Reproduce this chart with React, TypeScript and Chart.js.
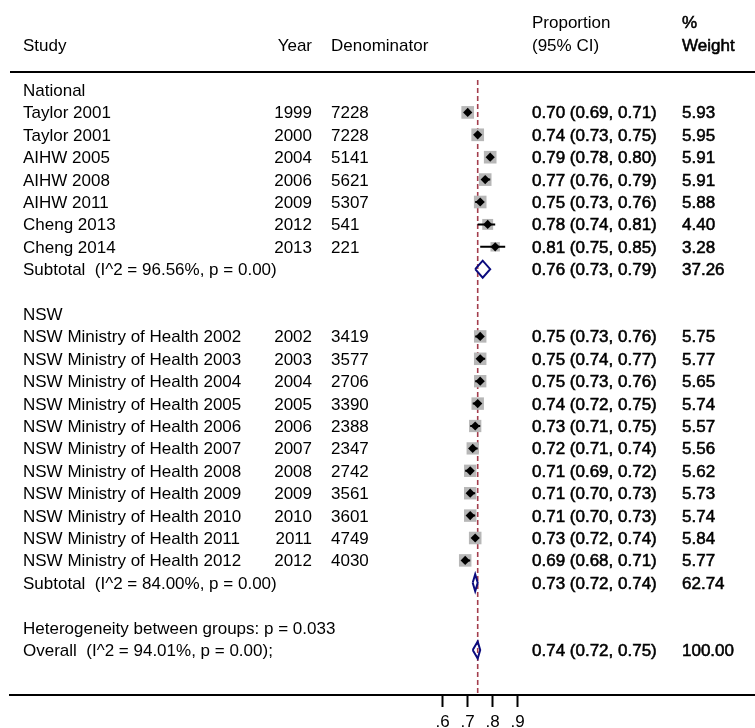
import React, { useEffect, useRef } from 'react';
import { Chart, registerables } from 'chart.js';

Chart.register(...registerables);

const FONT = '"Liberation Sans", Arial, Helvetica, sans-serif';

// ---- National group ----
const nationalStudies = ['Taylor 2001', 'Taylor 2001', 'AIHW 2005', 'AIHW 2008', 'AIHW 2011', 'Cheng 2013', 'Cheng 2014'];
const nationalYears = [1999, 2000, 2004, 2006, 2009, 2012, 2013];
const nationalDenoms = [7228, 7228, 5141, 5621, 5307, 541, 221];
const nationalProps = [0.70, 0.74, 0.79, 0.77, 0.75, 0.78, 0.81];
const nationalLower = [0.69, 0.73, 0.78, 0.76, 0.73, 0.74, 0.75];
const nationalUpper = [0.71, 0.75, 0.80, 0.79, 0.76, 0.81, 0.85];
const nationalWeights = [5.93, 5.95, 5.91, 5.91, 5.88, 4.40, 3.28];

// ---- NSW group ----
const nswStudies = [
  'NSW Ministry of Health 2002', 'NSW Ministry of Health 2003', 'NSW Ministry of Health 2004',
  'NSW Ministry of Health 2005', 'NSW Ministry of Health 2006', 'NSW Ministry of Health 2007',
  'NSW Ministry of Health 2008', 'NSW Ministry of Health 2009', 'NSW Ministry of Health 2010',
  'NSW Ministry of Health 2011', 'NSW Ministry of Health 2012',
];
const nswYears = [2002, 2003, 2004, 2005, 2006, 2007, 2008, 2009, 2010, 2011, 2012];
const nswDenoms = [3419, 3577, 2706, 3390, 2388, 2347, 2742, 3561, 3601, 4749, 4030];
const nswProps = [0.75, 0.75, 0.75, 0.74, 0.73, 0.72, 0.71, 0.71, 0.71, 0.73, 0.69];
const nswLower = [0.73, 0.74, 0.73, 0.72, 0.71, 0.71, 0.69, 0.70, 0.70, 0.72, 0.68];
const nswUpper = [0.76, 0.77, 0.76, 0.75, 0.75, 0.74, 0.72, 0.73, 0.73, 0.74, 0.71];
const nswWeights = [5.75, 5.77, 5.65, 5.74, 5.57, 5.56, 5.62, 5.73, 5.74, 5.84, 5.77];

// ---- Subtotals / overall ----
const groupNames = ['National', 'NSW'];
const subtotalLabels = ['Subtotal  (I^2 = 96.56%, p = 0.00)', 'Subtotal  (I^2 = 84.00%, p = 0.00)'];
const subtotalEst = [0.76, 0.73];
const subtotalLower = [0.73, 0.72];
const subtotalUpper = [0.79, 0.74];
const subtotalWeights = [37.26, 62.74];

const heterogeneityText = 'Heterogeneity between groups: p = 0.033';
const overallLabel = 'Overall  (I^2 = 94.01%, p = 0.00);';
const overallEst = 0.74;
const overallLower = 0.72;
const overallUpper = 0.75;
const overallWeight = 100.0;

const tickValues = [0.6, 0.7, 0.8, 0.9];
const tickLabels = ['.6', '.7', '.8', '.9'];

// ---- build row table ----
type Row = {
  kind: 'group' | 'study' | 'subtotal' | 'blank' | 'het' | 'overall';
  label?: string; year?: number; denom?: number;
  est?: number; lo?: number; hi?: number; weight?: number;
};

const groups = [
  { name: groupNames[0], studies: nationalStudies, years: nationalYears, denoms: nationalDenoms, props: nationalProps, lo: nationalLower, hi: nationalUpper, w: nationalWeights },
  { name: groupNames[1], studies: nswStudies, years: nswYears, denoms: nswDenoms, props: nswProps, lo: nswLower, hi: nswUpper, w: nswWeights },
];

const rows: Row[] = [];
groups.forEach((g, gi) => {
  rows.push({ kind: 'group', label: g.name });
  g.studies.forEach((s, i) => rows.push({ kind: 'study', label: s, year: g.years[i], denom: g.denoms[i], est: g.props[i], lo: g.lo[i], hi: g.hi[i], weight: g.w[i] }));
  rows.push({ kind: 'subtotal', label: subtotalLabels[gi], est: subtotalEst[gi], lo: subtotalLower[gi], hi: subtotalUpper[gi], weight: subtotalWeights[gi] });
  rows.push({ kind: 'blank' });
});
rows.push({ kind: 'het', label: heterogeneityText });
rows.push({ kind: 'overall', label: overallLabel, est: overallEst, lo: overallLower, hi: overallUpper, weight: overallWeight });

// ---- layout constants ----
const W = 755;
const H = 728;
const PLOT_LEFT = 10;
const PLOT_TOP = 80;
const AXIS_H = 33;
const PX_PER_UNIT = 250;
const X_AT_06 = 442.7;
const X_MIN = 0.6 - (X_AT_06 - PLOT_LEFT) / PX_PER_UNIT;
const X_MAX = X_MIN + (W - PLOT_LEFT) / PX_PER_UNIT;
const ROW_H = 22.4;
const FIRST_ROW_Y = 90;
const Y_MIN = -(FIRST_ROW_Y - PLOT_TOP) / ROW_H;
const Y_MAX = (H - AXIS_H - FIRST_ROW_Y) / ROW_H;
const DIAMOND_HALF = 8.5 / ROW_H;

const COL_STUDY = 23;
const COL_YEAR_R = 312;
const COL_DENOM = 331;
const COL_PROP = 532;
const COL_WEIGHT = 682;

const fmtCI = (r: Row) => `${r.est!.toFixed(2)} (${r.lo!.toFixed(2)}, ${r.hi!.toFixed(2)})`;

const textPlugin = {
  id: 'forestText',
  afterDraw(chart: any) {
    const ctx = chart.ctx as CanvasRenderingContext2D;
    const ys = chart.scales.y;
    ctx.save();
    ctx.fillStyle = '#000';
    ctx.strokeStyle = '#000';
    ctx.font = `17px ${FONT}`;
    ctx.textBaseline = 'alphabetic';
    const put = (s: string, x: number, y: number, align: CanvasTextAlign, bold = false) => {
      ctx.textAlign = align;
      ctx.fillText(s, x, y);
      if (bold) {
        ctx.lineWidth = 0.55;
        ctx.strokeText(s, x, y);
      }
    };
    const off = 6;
    // headers
    put('Study', COL_STUDY, 45 + off, 'left');
    put('Year', COL_YEAR_R, 45 + off, 'right');
    put('Denominator', COL_DENOM, 45 + off, 'left');
    put('Proportion', COL_PROP, 22 + off, 'left');
    put('(95% CI)', COL_PROP, 45 + off, 'left');
    put('%', COL_WEIGHT, 22 + off, 'left', true);
    put('Weight', COL_WEIGHT, 45 + off, 'left', true);
    // header rule
    ctx.beginPath();
    ctx.lineWidth = 2;
    ctx.moveTo(PLOT_LEFT, 72);
    ctx.lineTo(W, 72);
    ctx.stroke();

    rows.forEach((r, i) => {
      const y = ys.getPixelForValue(i) + off;
      if (r.kind === 'blank') return;
      if (r.label) put(r.label, COL_STUDY, y, 'left');
      if (r.kind === 'study') {
        put(String(r.year), COL_YEAR_R, y, 'right');
        put(String(r.denom), COL_DENOM, y, 'left');
      }
      if (r.kind === 'study' || r.kind === 'subtotal' || r.kind === 'overall') {
        put(fmtCI(r), COL_PROP, y, 'left', true);
        put(r.weight!.toFixed(2), COL_WEIGHT, y, 'left', true);
      }
    });
    ctx.restore();
  },
};

export default function App() {
  const ref = useRef<HTMLCanvasElement | null>(null);
  useEffect(() => {
    if (!ref.current) return;
    const studyPts: any[] = [];
    const ciPts: any[] = [];
    const diaPts: any[] = [];
    rows.forEach((r, i) => {
      if (r.kind === 'study') {
        studyPts.push({ x: r.est, y: i, w: r.weight });
        ciPts.push({ x: r.lo, y: i }, { x: r.hi, y: i }, { x: r.hi, y: null });
      }
      if (r.kind === 'subtotal' || r.kind === 'overall') {
        diaPts.push(
          { x: r.lo, y: i },
          { x: r.est, y: i - DIAMOND_HALF },
          { x: r.hi, y: i },
          { x: r.est, y: i + DIAMOND_HALF },
          { x: r.lo, y: i },
          { x: r.lo, y: null },
        );
      }
    });

    const chart = new Chart(ref.current, {
      type: 'scatter',
      data: {
        datasets: [
          {
            type: 'line',
            data: [{ x: overallEst, y: Y_MIN }, { x: overallEst, y: Y_MAX }],
            borderColor: '#a33d4c',
            borderWidth: 1.6,
            borderDash: [5, 3],
            pointRadius: 0,
            order: 10,
          } as any,
          {
            type: 'scatter',
            data: studyPts,
            pointStyle: 'rect',
            pointRadius: (c: any) => (5.2 * Math.sqrt(c.raw?.w ?? 5)) / Math.SQRT2,
            backgroundColor: '#b7b7b7',
            borderWidth: 0,
            order: 6,
          } as any,
          {
            type: 'line',
            data: ciPts,
            borderColor: '#000',
            borderWidth: 2,
            pointRadius: 0,
            spanGaps: false,
            order: 5,
          } as any,
          {
            type: 'scatter',
            data: studyPts,
            pointStyle: 'rectRot',
            pointRadius: 4.6,
            backgroundColor: '#000',
            borderWidth: 0,
            order: 4,
          } as any,
          {
            type: 'line',
            data: diaPts,
            borderColor: '#0b0b7e',
            borderWidth: 2,
            borderJoinStyle: 'miter',
            pointRadius: 0,
            spanGaps: false,
            fill: false,
            order: 3,
          } as any,
        ],
      },
      options: {
        responsive: false,
        maintainAspectRatio: false,
        animation: false,
        events: [],
        layout: { autoPadding: false, padding: { left: PLOT_LEFT, right: 0, top: PLOT_TOP, bottom: 0 } },
        plugins: { legend: { display: false }, tooltip: { enabled: false } },
        scales: {
          x: {
            type: 'linear',
            position: 'bottom',
            min: X_MIN,
            max: X_MAX,
            afterBuildTicks: (s: any) => { s.ticks = tickValues.map((v) => ({ value: v })); },
            afterFit: (s: any) => {
              s.height = AXIS_H;
              s.paddingLeft = 0;
              s.paddingRight = 0;
            },
            grid: { display: true, drawOnChartArea: false, drawTicks: true, tickLength: 12, tickWidth: 2, tickColor: '#000' },
            border: { display: true, color: '#000', width: 2 },
            ticks: {
              autoSkip: false,
              maxRotation: 0,
              padding: 5,
              color: '#000',
              font: { family: FONT, size: 17 },
              callback: (_v: any, i: number) => tickLabels[i],
            },
          },
          y: {
            type: 'linear',
            display: false,
            reverse: true,
            min: Y_MIN,
            max: Y_MAX,
          },
        },
      } as any,
      plugins: [textPlugin],
    });
    return () => chart.destroy();
  }, []);

  return (
    <div style={{ position: 'fixed', left: 0, top: 0, width: W, height: H, background: '#fff', overflow: 'hidden' }}>
      <canvas ref={ref} width={W} height={H} style={{ width: W, height: H, display: 'block' }} />
    </div>
  );
}
